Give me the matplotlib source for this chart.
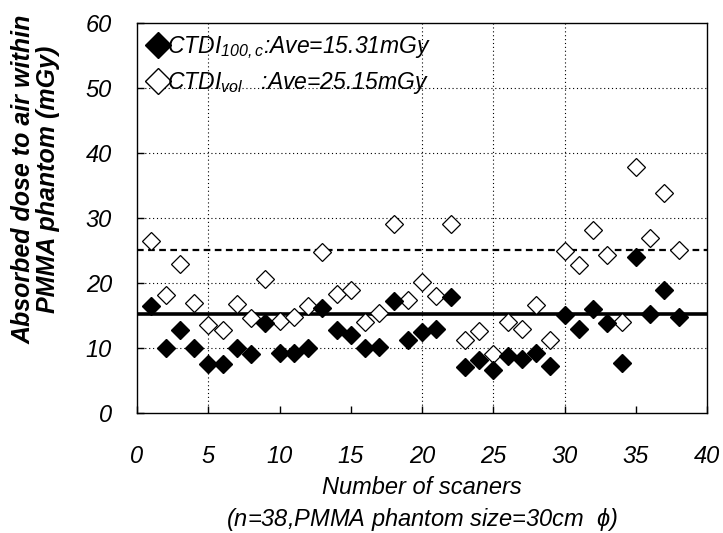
import matplotlib
matplotlib.use('Agg')
import matplotlib.pyplot as plt
from matplotlib.lines import Line2D

plt.rcParams['font.family'] = ['Liberation Sans', 'DejaVu Sans']
plt.rcParams['mathtext.fontset'] = 'custom'
plt.rcParams['mathtext.it'] = 'Liberation Sans:italic'
plt.rcParams['mathtext.rm'] = 'Liberation Sans:italic'
plt.rcParams['mathtext.default'] = 'it'

# scanner number
scanner = list(range(1, 39))

# CTDI100,c (filled diamonds), mGy
ctdi_100c = [16.5, 10.0, 12.7, 10.0, 7.5, 7.5, 10.0, 9.1, 13.8, 9.3,
             9.2, 10.0, 16.1, 12.8, 12.0, 10.0, 10.2, 17.3, 11.3, 12.4,
             12.9, 17.8, 7.1, 8.1, 6.6, 8.8, 8.3, 9.3, 7.2, 15.1,
             13.0, 16.0, 13.9, 7.7, 24.0, 15.3, 18.9, 14.7]

# CTDIvol (open diamonds), mGy
ctdi_vol = [26.4, 18.2, 23.0, 17.0, 13.6, 12.8, 16.7, 14.6, 20.6, 14.2,
            14.8, 16.5, 24.8, 18.3, 19.0, 14.0, 15.4, 29.1, 17.4, 20.2,
            18.0, 29.1, 11.3, 12.6, 9.1, 14.0, 12.9, 16.6, 11.2, 25.0,
            22.8, 28.2, 24.3, 14.0, 37.9, 26.9, 33.9, 25.1]

ave_100c = 15.31
ave_vol = 25.15

x_ticks = [0, 5, 10, 15, 20, 25, 30, 35, 40]
y_ticks = [0, 10, 20, 30, 40, 50, 60]
x_grid = [5, 20, 25, 30]

fig = plt.figure(figsize=(7.23, 5.33), dpi=100)
ax = fig.add_axes([0.1895, 0.2251, 0.7885, 0.7317])

# background grid
for yv in y_ticks[1:-1]:
    ax.axhline(yv, color='black', lw=0.8, ls=(0, (1, 2.5)), zorder=1)
for xv in x_grid:
    ax.axvline(xv, color='black', lw=0.8, ls=(0, (1, 2.5)), zorder=1)

# average lines
ax.axhline(ave_100c, color='black', lw=2.6, zorder=2)
ax.axhline(ave_vol, color='black', lw=1.6, ls=(0, (3, 2)), zorder=2)

ax.plot(scanner, ctdi_vol, ls='none', marker='D', ms=9, mfc='white',
        mec='black', mew=0.9, zorder=3)
ax.plot(scanner, ctdi_100c, ls='none', marker='D', ms=9, mfc='black',
        mec='black', zorder=4)

ax.set_xlim(0, 40)
ax.set_ylim(0, 60)
ax.set_xticks(x_ticks)
ax.set_yticks(y_ticks)
ax.tick_params(direction='in', length=5, width=1, labelsize=17)
ax.tick_params(axis='x', pad=23)
ax.tick_params(axis='y', pad=18)
for lab in ax.get_xticklabels() + ax.get_yticklabels():
    lab.set_fontstyle('italic')
for sp in ax.spines.values():
    sp.set_linewidth(1.0)

ax.set_xlabel('Number of scaners\n(n=38,PMMA phantom size=30cm  $\\phi$)',
              fontsize=17, fontstyle='italic', linespacing=1.35, labelpad=6)
ax.set_ylabel('Absorbed dose to air within\nPMMA phantom (mGy)',
              fontsize=18, fontstyle='italic', fontweight='bold',
              linespacing=1.05)
ax.yaxis.set_label_coords(-0.135, 0.60)

handles = [
    Line2D([], [], ls='none', marker='D', ms=13, mfc='black', mec='black'),
    Line2D([], [], ls='none', marker='D', ms=13, mfc='white', mec='black', mew=1.0),
]
labels = ['CTDI$_{100,c}$:Ave=15.31mGy', 'CTDI$_{vol}$   :Ave=25.15mGy']
leg = ax.legend(handles, labels, loc='upper left', frameon=False,
                handlelength=0.8, handletextpad=0.0,
                borderaxespad=0.2, borderpad=0.3, labelspacing=0.4,
                prop={'style': 'italic', 'size': 16.5})

fig.savefig('out.png', dpi=100)
